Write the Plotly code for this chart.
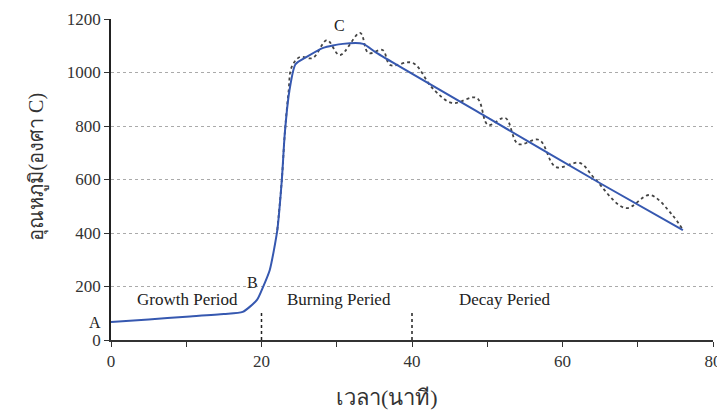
import plotly.graph_objects as go

# เส้นเฉลี่ย (เส้นทึบสีน้ำเงิน)
avg_time = [0, 5, 10, 15, 17.5, 19.4, 20.2, 21.1, 22.1, 22.7, 23.1, 23.7, 24.5,
            26, 28.2, 30.8, 33.5, 35.3, 50, 65, 76]
avg_temp = [67, 77, 87, 97, 105, 150, 198, 262, 411, 598, 774, 930, 1030,
            1058, 1092, 1107, 1107, 1073, 832, 586, 411]

# ค่าที่วัดได้ (เส้นประ)
meas_time = [22.1, 22.7, 23.1, 23.6, 24.0, 25.1, 26.8, 28.7, 30.4, 33.1, 34.2,
             36.1, 37.1, 40.1, 42.7, 45.3, 48.6, 50.1, 52.4, 54.1, 56.9, 59.1,
             62.3, 64.2, 68.4, 71.6, 74.6, 76.0]
meas_temp = [411, 598, 774, 930, 1020, 1058, 1054, 1121, 1065, 1148, 1073,
             1084, 1028, 1036, 942, 886, 905, 804, 830, 733, 748, 647,
             662, 606, 493, 542, 467, 411]

# เส้นแบ่งช่วง
boundary_time = [20, 40]
boundary_top = 112

point_labels = ["A", "B", "C"]
point_x = [0, 18.8, 30.3]
point_y = [67, 215, 1175]
point_shift = [-16, 0, 0]

period_labels = ["Growth Period", "Burning Peried", "Decay Peried"]
period_x = [10.1, 30.3, 52.3]
period_y = [150, 150, 150]

FONT = "Liberation Serif, Times New Roman, serif"

fig = go.Figure()

bx, by = [], []
for t in boundary_time:
    bx += [t, t, None]
    by += [0, boundary_top, None]
fig.add_trace(go.Scatter(x=bx, y=by, mode="lines",
                         line=dict(color="#222222", width=1.5, dash="dot"),
                         showlegend=False, hoverinfo="skip"))

fig.add_trace(go.Scatter(x=meas_time, y=meas_temp, mode="lines",
                         line=dict(color="#444444", width=1.8, dash="dot", shape="spline", smoothing=1.0),
                         showlegend=False))

fig.add_trace(go.Scatter(x=avg_time, y=avg_temp, mode="lines",
                         line=dict(color="#3658b0", width=2, shape="spline", smoothing=0.6),
                         showlegend=False))

for txt, x, y, s in zip(point_labels, point_x, point_y, point_shift):
    fig.add_annotation(x=x, y=y, text=txt, showarrow=False, xshift=s,
                       font=dict(family=FONT, size=16, color="#222222"))

for txt, x, y in zip(period_labels, period_x, period_y):
    fig.add_annotation(x=x, y=y, text=txt, showarrow=False,
                       font=dict(family=FONT, size=17, color="#222222"))

# ชื่อแกน
fig.add_annotation(xref="paper", yref="paper", x=0.458, y=-0.18, text="เวลา(นาที)",
                   showarrow=False, yanchor="middle",
                   font=dict(family=FONT, size=22, color="#333333"))
fig.add_annotation(xref="paper", yref="paper", x=-0.123, y=0.54, text="อุณหภูมิ(องศา C)",
                   showarrow=False, textangle=-90, xanchor="center", yanchor="middle",
                   font=dict(family=FONT, size=20, color="#333333"))

fig.update_layout(
    width=725, height=410,
    margin=dict(l=103, r=20, t=11, b=78),
    paper_bgcolor="white", plot_bgcolor="white",
    font=dict(family=FONT, color="#222222"),
)

fig.update_xaxes(
    range=[0, 80], dtick=20, showgrid=False, zeroline=False, automargin=False,
    showline=True, linecolor="#333333", linewidth=1.5,
    ticks="outside", ticklen=5, tickcolor="#333333",
    minor=dict(dtick=10, ticks="outside", ticklen=5, tickcolor="#333333"),
    tickfont=dict(family=FONT, size=17, color="#333333"),
)

fig.update_yaxes(
    range=[0, 1200], dtick=200, zeroline=False, automargin=False,
    showgrid=True, gridcolor="#aaaaaa", gridwidth=1, griddash="dot",
    showline=True, linecolor="#222222", linewidth=1.5,
    ticks="outside", ticklen=5, tickcolor="#333333",
    tickfont=dict(family=FONT, size=17, color="#333333"),
)

fig.write_html("out.html")
